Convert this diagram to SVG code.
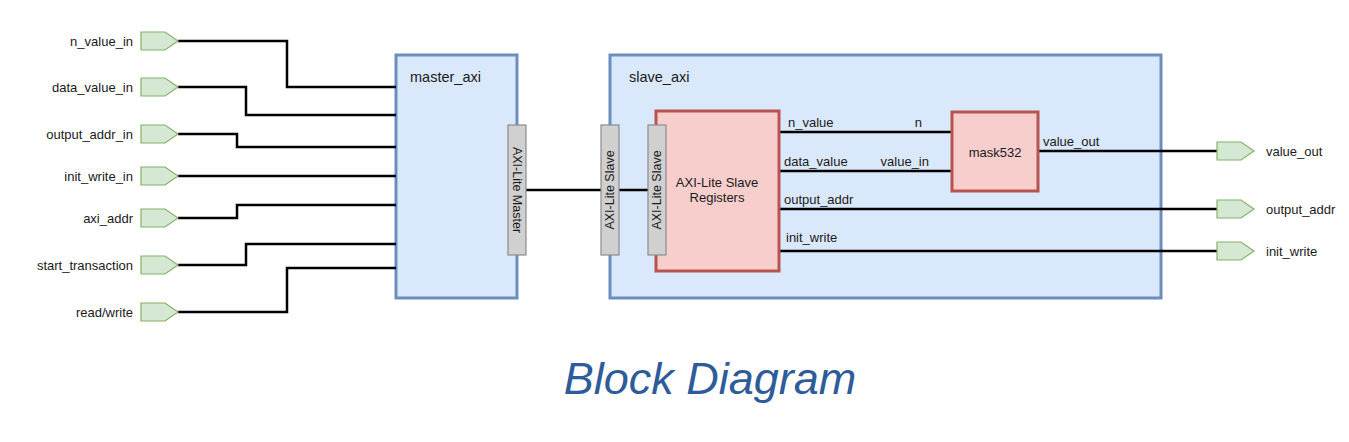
<svg xmlns="http://www.w3.org/2000/svg" width="1349" height="442" viewBox="0 0 1349 442">
<style>
.lbl{font-family:"Liberation Sans",Arial,sans-serif;font-size:13px;fill:#1a1a1a}
.sec{font-family:"Liberation Sans",Arial,sans-serif;font-size:14.5px;fill:#1a1a1a}
.port{fill:#d5e8d4;stroke:#82b366;stroke-width:1.2}
.blk{fill:#dae8fc;stroke:#6c8ebf;stroke-width:3}
.red{fill:#f8cecc;stroke:#b85450;stroke-width:3}
.ifc{fill:#d0d0d0;stroke:#8c8c8c;stroke-width:1.2}
.w{fill:none;stroke:#000;stroke-width:2.5}
.ttl{font-family:"Liberation Sans",Arial,sans-serif;font-size:45px;font-style:italic;fill:#2e5b9a}
</style>
<defs>
<polygon id="pin" class="port" points="0,-9 24,-9 37,0 24,9 0,9"/>
</defs>
<rect width="1349" height="442" fill="#fff"/>

<g id="master_axi">
<rect class="blk" x="396" y="55" width="121" height="243"/>
<text class="sec" x="410" y="82">master_axi</text>
</g>
<g id="slave_axi">
<rect class="blk" x="610" y="55" width="551" height="243"/>
<text class="sec" x="629" y="82">slave_axi</text>
</g>

<g id="connectors">
<polyline class="w" points="178,41 287,41 287,87 396,87"/>
<polyline class="w" points="178,87 246,87 246,115 396,115"/>
<polyline class="w" points="178,134 237,134 237,147 396,147"/>
<polyline class="w" points="178,176 396,176"/>
<polyline class="w" points="178,218 237,218 237,205 396,205"/>
<polyline class="w" points="178,265 246,265 246,244 396,244"/>
<polyline class="w" points="178,312 287,312 287,268 396,268"/>
<line class="w" x1="526" y1="190" x2="601" y2="190"/>
<line class="w" x1="619" y1="190" x2="648" y2="190"/>
<line class="w" x1="779" y1="132" x2="952" y2="132"/>
<line class="w" x1="779" y1="171" x2="952" y2="171"/>
<line class="w" x1="779" y1="209" x2="1217" y2="209"/>
<line class="w" x1="779" y1="251" x2="1217" y2="251"/>
<line class="w" x1="1038" y1="151" x2="1217" y2="151"/>
<text class="lbl" x="788" y="127">n_value</text>
<text class="lbl" x="922" y="127" text-anchor="end">n</text>
<text class="lbl" x="784" y="166">data_value</text>
<text class="lbl" x="929" y="166" text-anchor="end">value_in</text>
<text class="lbl" x="784" y="204">output_addr</text>
<text class="lbl" x="786" y="242">init_write</text>
<text class="lbl" x="1043" y="146">value_out</text>
</g>

<g id="axi_lite_master">
<rect class="ifc" x="508" y="125" width="18" height="130"/>
<text class="lbl" transform="translate(517,190) rotate(90)" text-anchor="middle" dominant-baseline="central" style="font-size:12.5px">AXI-Lite Master</text>
</g>
<g id="axi_lite_slave_outer">
<rect class="ifc" x="601" y="125" width="18" height="130"/>
<text class="lbl" transform="translate(610,190) rotate(-90)" text-anchor="middle" dominant-baseline="central" style="font-size:12.5px">AXI-Lite Slave</text>
</g>

<g id="registers">
<rect class="red" x="656" y="111" width="123" height="160"/>
<text class="lbl" x="717" y="187" text-anchor="middle">AXI-Lite Slave</text>
<text class="lbl" x="717" y="202" text-anchor="middle">Registers</text>
</g>
<g id="axi_lite_slave_inner">
<rect class="ifc" x="648" y="125" width="18" height="130"/>
<text class="lbl" transform="translate(657,190) rotate(-90)" text-anchor="middle" dominant-baseline="central" style="font-size:12.5px">AXI-Lite Slave</text>
</g>

<g id="mask532">
<rect class="red" x="952" y="112" width="86" height="79"/>
<text class="lbl" x="995" y="157" text-anchor="middle">mask532</text>
</g>

<g id="in_n_value_in"><use href="#pin" x="141" y="41"/><text class="lbl" x="133" y="45.5" text-anchor="end">n_value_in</text></g>
<g id="in_data_value_in"><use href="#pin" x="141" y="87"/><text class="lbl" x="133" y="91.5" text-anchor="end">data_value_in</text></g>
<g id="in_output_addr_in"><use href="#pin" x="141" y="134"/><text class="lbl" x="133" y="138.5" text-anchor="end">output_addr_in</text></g>
<g id="in_init_write_in"><use href="#pin" x="141" y="176"/><text class="lbl" x="133" y="180.5" text-anchor="end">init_write_in</text></g>
<g id="in_axi_addr"><use href="#pin" x="141" y="218"/><text class="lbl" x="133" y="222.5" text-anchor="end">axi_addr</text></g>
<g id="in_start_transaction"><use href="#pin" x="141" y="265"/><text class="lbl" x="133" y="269.5" text-anchor="end">start_transaction</text></g>
<g id="in_read_write"><use href="#pin" x="141" y="312"/><text class="lbl" x="133" y="316.5" text-anchor="end">read/write</text></g>

<g id="out_value_out"><use href="#pin" x="1217" y="151"/><text class="lbl" x="1266" y="155.5">value_out</text></g>
<g id="out_output_addr"><use href="#pin" x="1217" y="209"/><text class="lbl" x="1266" y="213.5">output_addr</text></g>
<g id="out_init_write"><use href="#pin" x="1217" y="251"/><text class="lbl" x="1266" y="255.5">init_write</text></g>

<text class="ttl" x="710" y="394" text-anchor="middle">Block Diagram</text>
</svg>
